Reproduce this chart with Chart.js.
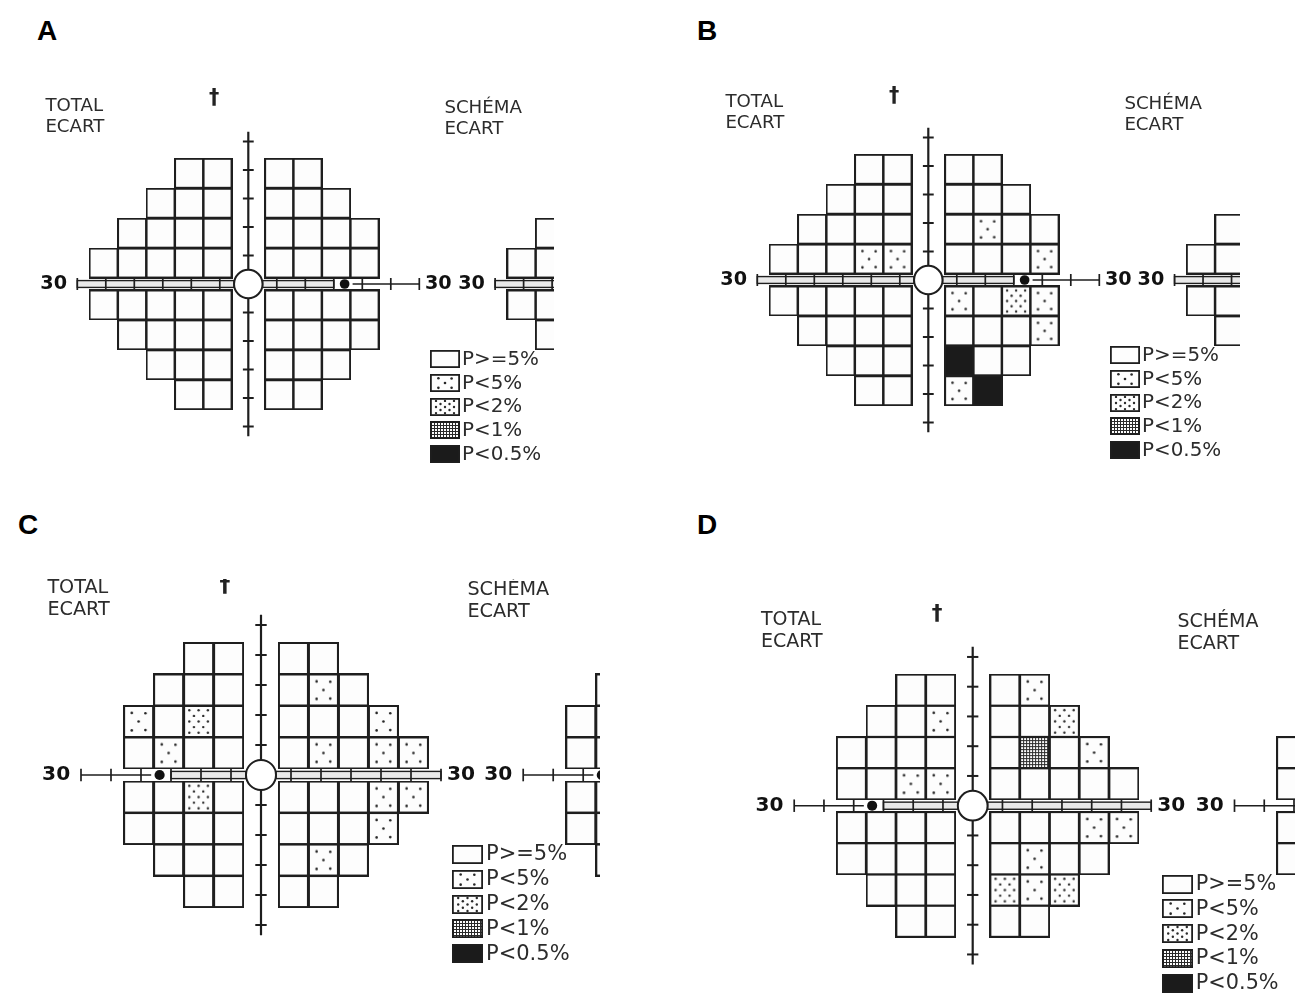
<!DOCTYPE html>
<html lang="fr">
<head>
<meta charset="utf-8">
<title>Champ visuel 24-2 – écart total</title>
<script src="https://cdn.jsdelivr.net/npm/chart.js@4.4.1/dist/chart.umd.min.js"></script>
<style>
  html, body { margin: 0; padding: 0; background: #fff; }
  body { position: relative; width: 1295px; height: 994px; overflow: hidden; }
  .tag { position: absolute; font: bold 28px "Liberation Sans", Arial, sans-serif; line-height: 28px; color: #000; }
  canvas { position: absolute; display: block; }
</style>
</head>
<body>
<div class="tag" style="left:37px;top:17px">A</div>
<div class="tag" style="left:697px;top:17px">B</div>
<div class="tag" style="left:18px;top:511px">C</div>
<div class="tag" style="left:697px;top:511px">D</div>
<canvas id="chartA"></canvas>
<canvas id="chartB"></canvas>
<canvas id="chartC"></canvas>
<canvas id="chartD"></canvas>
<script>
const _ = null;

// Test locations of the 24-2 grid (degrees)
const fieldX = [-27, -21, -15, -9, -3, 3, 9, 15, 21, 27];
const fieldY = [21, 15, 9, 3, -3, -9, -15, -21];

// Probability classes (index = class code used in the maps)
const probLabels = ['P>=5%', 'P<5%', 'P<2%', 'P<1%', 'P<0.5%'];

// Meridian graduations and texts
const meridianTicks = [5, 10, 15, 20, 25];
const railTicks = [5, 10, 15, 20, 25, 30];
const eccentricityLabel = '30';
const headerTotal = ['TOTAL', 'ECART'];
const headerPattern = ['SCHÉMA', 'ECART'];
const headerMark = '†';

// Total deviation probability maps: rows follow fieldY, columns follow fieldX, null = no test point
const totalA = [
  [_, _, _, 0, 0, 0, 0, _, _, _],
  [_, _, 0, 0, 0, 0, 0, 0, _, _],
  [_, 0, 0, 0, 0, 0, 0, 0, 0, _],
  [0, 0, 0, 0, 0, 0, 0, 0, 0, _],
  [0, 0, 0, 0, 0, 0, 0, 0, 0, _],
  [_, 0, 0, 0, 0, 0, 0, 0, 0, _],
  [_, _, 0, 0, 0, 0, 0, 0, _, _],
  [_, _, _, 0, 0, 0, 0, _, _, _]
];
const totalB = [
  [_, _, _, 0, 0, 0, 0, _, _, _],
  [_, _, 0, 0, 0, 0, 0, 0, _, _],
  [_, 0, 0, 0, 0, 0, 1, 0, 0, _],
  [0, 0, 0, 1, 1, 0, 0, 0, 1, _],
  [0, 0, 0, 0, 0, 1, 0, 2, 1, _],
  [_, 0, 0, 0, 0, 0, 0, 0, 1, _],
  [_, _, 0, 0, 0, 4, 0, 0, _, _],
  [_, _, _, 0, 0, 1, 4, _, _, _]
];
const totalC = [
  [_, _, _, 0, 0, 0, 0, _, _, _],
  [_, _, 0, 0, 0, 0, 1, 0, _, _],
  [_, 1, 0, 2, 0, 0, 0, 0, 1, _],
  [_, 0, 1, 0, 0, 0, 1, 0, 1, 1],
  [_, 0, 0, 2, 0, 0, 0, 0, 1, 1],
  [_, 0, 0, 0, 0, 0, 0, 0, 1, _],
  [_, _, 0, 0, 0, 0, 1, 0, _, _],
  [_, _, _, 0, 0, 0, 0, _, _, _]
];
const totalD = [
  [_, _, _, 0, 0, 0, 1, _, _, _],
  [_, _, 0, 0, 1, 0, 0, 2, _, _],
  [_, 0, 0, 0, 0, 0, 3, 0, 1, _],
  [_, 0, 0, 1, 1, 0, 0, 0, 0, 0],
  [_, 0, 0, 0, 0, 0, 0, 0, 1, 1],
  [_, 0, 0, 0, 0, 0, 1, 0, 0, _],
  [_, _, 0, 0, 0, 2, 1, 2, _, _],
  [_, _, _, 0, 0, 0, 0, _, _, _]
];

// Pattern deviation maps: only the nasal edge lies inside each panel
const patternA = [
  [_, _, _, _, _, _, _, _, _, _],
  [_, _, _, _, _, _, _, _, _, _],
  [_, 0, _, _, _, _, _, _, _, _],
  [0, 0, _, _, _, _, _, _, _, _],
  [0, 0, _, _, _, _, _, _, _, _],
  [_, 0, _, _, _, _, _, _, _, _],
  [_, _, _, _, _, _, _, _, _, _],
  [_, _, _, _, _, _, _, _, _, _]
];
const patternB = [
  [_, _, _, _, _, _, _, _, _, _],
  [_, _, _, _, _, _, _, _, _, _],
  [_, 0, _, _, _, _, _, _, _, _],
  [0, 0, _, _, _, _, _, _, _, _],
  [0, 0, _, _, _, _, _, _, _, _],
  [_, 0, _, _, _, _, _, _, _, _],
  [_, _, _, _, _, _, _, _, _, _],
  [_, _, _, _, _, _, _, _, _, _]
];
const patternC = [
  [_, _, _, _, _, _, _, _, _, _],
  [_, _, 0, _, _, _, _, _, _, _],
  [_, 0, 0, _, _, _, _, _, _, _],
  [_, 0, 0, _, _, _, _, _, _, _],
  [_, 0, 0, _, _, _, _, _, _, _],
  [_, 0, 0, _, _, _, _, _, _, _],
  [_, _, 0, _, _, _, _, _, _, _],
  [_, _, _, _, _, _, _, _, _, _]
];
const patternD = [
  [_, _, _, _, _, _, _, _, _, _],
  [_, _, _, _, _, _, _, _, _, _],
  [_, 0, _, _, _, _, _, _, _, _],
  [_, 0, _, _, _, _, _, _, _, _],
  [_, 0, _, _, _, _, _, _, _, _],
  [_, 0, _, _, _, _, _, _, _, _],
  [_, _, _, _, _, _, _, _, _, _],
  [_, _, _, _, _, _, _, _, _, _]
];

// ---- layout (drawing units; 1 unit = one fifth of a cell width) ----
const COL_GAP = 2.9, COL_W = 5, ROW_GAP = 1.05, ROW_H = 5.25;
const toCol = d => Math.sign(d) * (COL_GAP + COL_W * ((Math.abs(d) + 3) / 6 - 0.5));
const toRow = d => Math.sign(d) * (ROW_GAP + ROW_H * ((Math.abs(d) + 3) / 6 - 0.5));
const INK = '#1e1e1e';

const panels = [
  { canvas: 'chartA', box: { x: 0,   y: 40,  w: 554, h: 457 }, centre: [248.3, 284],   s: 5.7,  eye: 'R', shift: 73.3, markY: 32.6, total: totalA, pattern: patternA },
  { canvas: 'chartB', box: { x: 690, y: 40,  w: 550, h: 457 }, centre: [928.3, 280],   s: 5.7,  eye: 'R', shift: 73.2, markY: 32.1, total: totalB, pattern: patternB },
  { canvas: 'chartC', box: { x: 0,   y: 579, w: 600, h: 415 }, centre: [261, 775],     s: 6.0,  eye: 'L', shift: 73.7, markY: 31.5, total: totalC, pattern: patternC },
  { canvas: 'chartD', box: { x: 690, y: 560, w: 605, h: 434 }, centre: [972.7, 805.7], s: 5.95, eye: 'L', shift: 74.0, markY: 32.2, total: totalD, pattern: patternD }
];

function gridPoints(levels, shift) {
  const pts = [];
  levels.forEach((row, r) => row.forEach((lv, c) => {
    if (lv === null) return;
    pts.push({ x: shift + toCol(fieldX[c]), y: toRow(fieldY[r]), level: lv });
  }));
  return pts;
}

// Cell texture for each probability class
function cellImage(level, w, h, border) {
  const c = document.createElement('canvas');
  c.width = w; c.height = h;
  const g = c.getContext('2d');
  g.fillStyle = '#fdfdfd';
  g.fillRect(0, 0, w, h);
  const dot = (fx, fy, r) => { g.beginPath(); g.arc(fx * w, fy * h, r, 0, 2 * Math.PI); g.fill(); };
  if (level === 1) {
    g.fillStyle = '#262626';
    [[.28, .24], [.72, .25], [.5, .5], [.28, .77], [.72, .76]].forEach(([a, b]) => dot(a, b, 1.3));
  } else if (level === 2) {
    g.fillStyle = '#2a2a2a';
    [.16, .33, .5, .67, .84].forEach((fy, i) => {
      (i % 2 ? [.35, .65] : [.2, .5, .8]).forEach(fx => dot(fx, fy, 1.2));
    });
  } else if (level === 3) {
    g.fillStyle = '#2a2a2a';
    for (let x = 1; x < w; x += 3) g.fillRect(x, 0, 1, h);
    for (let y = 1; y < h; y += 3) g.fillRect(0, y, w, 1);
  } else if (level === 4) {
    g.fillStyle = '#1b1b1b';
    g.fillRect(0, 0, w, h);
  }
  g.strokeStyle = INK;
  g.lineWidth = border;
  g.strokeRect(border / 2, border / 2, w - border, h - border);
  return c;
}

// Meridians, fixation target and blind spot of one field plot centred at unit c
function drawMeridians(ctx, xs, ys, c, eye) {
  const X = v => xs.getPixelForValue(c + v);
  const Y = v => ys.getPixelForValue(v);
  const s = xs.getPixelForValue(1) - xs.getPixelForValue(0);
  const side = eye === 'R' ? 1 : -1;
  const seg = (x1, y1, x2, y2) => { ctx.beginPath(); ctx.moveTo(x1, y1); ctx.lineTo(x2, y2); ctx.stroke(); };
  const rail = (a, b) => {
    const x1 = Math.min(X(a), X(b)), x2 = Math.max(X(a), X(b));
    ctx.fillStyle = '#e9e9e9';
    ctx.fillRect(x1, Y(0.6), x2 - x1, Y(-0.6) - Y(0.6));
    ctx.lineWidth = 1.4;
    ctx.strokeRect(x1, Y(0.6), x2 - x1, Y(-0.6) - Y(0.6));
  };
  ctx.save();
  ctx.strokeStyle = INK;
  // vertical meridian
  ctx.lineWidth = 2.2;
  seg(X(0), Y(26.7), X(0), Y(-26.7));
  ctx.lineWidth = 2;
  meridianTicks.forEach(t => [t, -t].forEach(v => seg(X(-0.95), Y(v), X(0.95), Y(v))));
  // horizontal meridian
  rail(-side * 30, -side * 2.5);
  rail(side * 2.5, side * 15);
  ctx.lineWidth = 1.6;
  seg(X(side * 18.3), Y(0), X(side * 30), Y(0));
  ctx.lineWidth = 1.7;
  railTicks.forEach(t => [t, -t].forEach(v => seg(X(v), Y(1.05), X(v), Y(-1.05))));
  // fixation target
  ctx.beginPath();
  ctx.arc(X(0), Y(0), 2.5 * s, 0, 2 * Math.PI);
  ctx.fillStyle = '#fff';
  ctx.fill();
  ctx.lineWidth = 2;
  ctx.stroke();
  // blind spot
  ctx.beginPath();
  ctx.arc(X(side * 16.9), Y(0), 1.3 * s, 0, 2 * Math.PI);
  ctx.fillStyle = '#fff';
  ctx.fill();
  ctx.beginPath();
  ctx.arc(X(side * 16.9), Y(0), 0.85 * s, 0, 2 * Math.PI);
  ctx.fillStyle = '#111';
  ctx.fill();
  ctx.restore();
}

function fieldPlugin(p, swatches) {
  return {
    id: 'fieldPlot',
    beforeDatasetsDraw(chart) {
      const { ctx, scales: { x, y } } = chart;
      [0, p.shift].forEach(c => drawMeridians(ctx, x, y, c, p.eye));
    },
    afterDatasetsDraw(chart) {
      const { ctx, scales: { x, y } } = chart;
      const s = x.getPixelForValue(1) - x.getPixelForValue(0);
      ctx.save();
      // eccentricity labels at both ends of the horizontal meridian
      ctx.font = `bold ${(3.37 * s).toFixed(1)}px "DejaVu Sans"`;
      ctx.fillStyle = '#111';
      ctx.textBaseline = 'middle';
      [0, p.shift].forEach(c => {
        ctx.textAlign = 'right';
        ctx.fillText(eccentricityLabel, x.getPixelForValue(c - 31.8), y.getPixelForValue(0));
        ctx.textAlign = 'left';
        ctx.fillText(eccentricityLabel, x.getPixelForValue(c + 31.0), y.getPixelForValue(0));
      });
      // plot headers
      ctx.font = `${(3.2 * s).toFixed(1)}px "DejaVu Sans"`;
      ctx.fillStyle = '#2c2c2c';
      ctx.textBaseline = 'alphabetic';
      ctx.textAlign = 'left';
      ctx.fillText(headerTotal[0], x.getPixelForValue(-35.6), y.getPixelForValue(30.4));
      ctx.fillText(headerTotal[1], x.getPixelForValue(-35.6), y.getPixelForValue(26.75));
      ctx.fillText(headerPattern[0], x.getPixelForValue(34.4), y.getPixelForValue(30.0));
      ctx.fillText(headerPattern[1], x.getPixelForValue(34.4), y.getPixelForValue(26.35));
      ctx.font = `bold ${(3.6 * s).toFixed(1)}px "DejaVu Sans"`;
      ctx.fillStyle = '#222';
      ctx.textAlign = 'center';
      ctx.textBaseline = 'middle';
      ctx.fillText(headerMark, x.getPixelForValue(-6.0), y.getPixelForValue(p.markY));
      // probability legend
      ctx.font = `${(3.5 * s).toFixed(1)}px "DejaVu Sans"`;
      ctx.fillStyle = '#2c2c2c';
      ctx.textAlign = 'left';
      probLabels.forEach((lab, i) => {
        const yc = y.getPixelForValue(-13.2 - 4.15 * i);
        const img = swatches[i];
        ctx.drawImage(img, Math.round(x.getPixelForValue(31.8)), Math.round(yc - img.height / 2));
        ctx.fillText(lab, x.getPixelForValue(37.5), yc + 0.5);
      });
      ctx.restore();
    }
  };
}

function makePanel(p) {
  const cv = document.getElementById(p.canvas);
  cv.width = p.box.w; cv.height = p.box.h;
  cv.style.left = p.box.x + 'px'; cv.style.top = p.box.y + 'px';
  cv.style.width = p.box.w + 'px'; cv.style.height = p.box.h + 'px';
  const [cx, cy] = p.centre, s = p.s;
  const cellW = Math.ceil(COL_W * s + 1), cellH = Math.ceil(ROW_H * s + 1);
  const cells = [0, 1, 2, 3, 4].map(l => cellImage(l, cellW, cellH, 2));
  const swatches = [0, 1, 2, 3, 4].map(l => cellImage(l, Math.round(5.2 * s), Math.round(3.2 * s), 1.8));
  const styleOf = ctx => cells[ctx.raw && ctx.raw.level != null ? ctx.raw.level : 0];
  new Chart(cv, {
    type: 'scatter',
    data: {
      datasets: [
        { label: headerTotal.join(' '), data: gridPoints(p.total, 0), pointStyle: styleOf, pointRadius: 18, clip: false },
        { label: headerPattern.join(' '), data: gridPoints(p.pattern, p.shift), pointStyle: styleOf, pointRadius: 18, clip: false }
      ]
    },
    options: {
      responsive: false,
      animation: false,
      events: [],
      layout: { padding: 0, autoPadding: false },
      scales: {
        x: { type: 'linear', display: false, min: (p.box.x - cx) / s, max: (p.box.x + p.box.w - cx) / s },
        y: { type: 'linear', display: false, min: (cy - p.box.y - p.box.h) / s, max: (cy - p.box.y) / s }
      },
      plugins: { legend: { display: false }, tooltip: { enabled: false } }
    },
    plugins: [fieldPlugin(p, swatches)]
  });
}

panels.forEach(makePanel);
</script>
</body>
</html>
